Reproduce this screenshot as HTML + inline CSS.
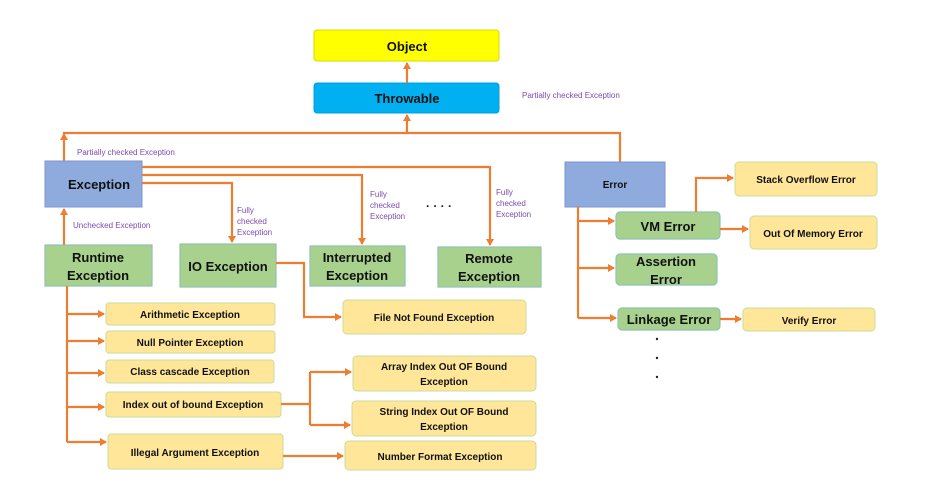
<!DOCTYPE html>
<html><head><style>
body{margin:0;background:#fff;}
svg{display:block;font-family:"Liberation Sans",sans-serif;font-weight:bold;}
.p{fill:#7b4bb0;font-size:8px;font-weight:normal}
.y{fill:#ffe699;stroke:#c9dc9a;stroke-width:1}
.g{fill:#a9d18e;stroke:#8fc1b0;stroke-width:1.2}
.b{fill:#8faadc;stroke:#7d95d0;stroke-width:1}
.l{stroke:#ed7d31;stroke-width:2.2;fill:none}
.t{fill:#111;text-anchor:middle}
</style></head><body>
<svg width="936" height="485" viewBox="0 0 936 485">
<defs><marker id="a" markerWidth="8" markerHeight="8" refX="6" refY="4" orient="auto" markerUnits="userSpaceOnUse"><path d="M0,0 L7,4 L0,8 Z" fill="#ed7d31"/></marker></defs>
<!-- top -->
<rect x="314" y="30" width="185" height="31" rx="3" fill="#ffff00" stroke="#d8d800"/>
<text class="t" x="407" y="51" font-size="13">Object</text>
<rect x="314" y="83" width="185" height="30" rx="3" fill="#00b0f0" stroke="#00a0dd"/>
<text class="t" x="407" y="103" font-size="13">Throwable</text>
<path class="l" d="M407 83 V63" marker-end="url(#a)"/>
<path class="l" d="M407 133 V115" marker-end="url(#a)"/>
<path class="l" d="M64 161 V133 H620 V162" />
<path class="l" d="M64 140 V134" marker-end="url(#a)"/>
<text class="p" x="522" y="98">Partially checked Exception</text>
<text class="p" x="77" y="155">Partially checked Exception</text>
<!-- Exception -->
<rect class="b" x="45" y="161" width="97" height="46"/>
<text class="t" x="99" y="189" font-size="13">Exception</text>
<path class="l" d="M142 167 H490 V245" marker-end="url(#a)"/>
<path class="l" d="M142 175 H362 V244" marker-end="url(#a)"/>
<path class="l" d="M142 183 H232 V242" marker-end="url(#a)"/>
<path class="l" d="M64 245 V209" marker-end="url(#a)"/>
<text class="p" x="73" y="228">Unchecked Exception</text>
<text class="p" x="237" y="213">Fully</text><text class="p" x="237" y="224">checked</text><text class="p" x="237" y="235">Exception</text>
<text class="p" x="370" y="197">Fully</text><text class="p" x="370" y="208">checked</text><text class="p" x="370" y="219">Exception</text>
<text class="p" x="496" y="195">Fully</text><text class="p" x="496" y="206">checked</text><text class="p" x="496" y="217">Exception</text>
<text x="426" y="210" font-size="12" fill="#222">·  ·  ·  ·</text>
<rect class="g" x="45" y="245" width="107" height="41"/>
<text class="t" x="98" y="262" font-size="13">Runtime</text><text class="t" x="98" y="280" font-size="13">Exception</text>
<rect class="g" x="180" y="244" width="96" height="43"/>
<text class="t" x="228" y="271" font-size="13">IO Exception</text>
<rect class="g" x="310" y="246" width="95" height="40"/>
<text class="t" x="357" y="262" font-size="13">Interrupted</text><text class="t" x="357" y="280" font-size="13">Exception</text>
<rect class="g" x="438" y="247" width="103" height="40"/>
<text class="t" x="489" y="263" font-size="13">Remote</text><text class="t" x="489" y="281" font-size="13">Exception</text>
<!-- runtime children -->
<path class="l" d="M67 286 V442"/>
<path class="l" d="M67 314 H104" marker-end="url(#a)"/>
<path class="l" d="M67 341 H104" marker-end="url(#a)"/>
<path class="l" d="M67 373 H104" marker-end="url(#a)"/>
<path class="l" d="M67 407 H104" marker-end="url(#a)"/>
<path class="l" d="M67 442 H106" marker-end="url(#a)"/>
<g font-size="10">
<rect class="y" x="106" y="303" width="169" height="22" rx="3"/><text class="t" x="190" y="318">Arithmetic Exception</text>
<rect class="y" x="106" y="331" width="169" height="22" rx="3"/><text class="t" x="190" y="346">Null Pointer Exception</text>
<rect class="y" x="106" y="360" width="168" height="23" rx="3"/><text class="t" x="190" y="375">Class cascade Exception</text>
<rect class="y" x="106" y="392" width="175" height="25" rx="3"/><text class="t" x="193" y="408">Index out of bound Exception</text>
<rect class="y" x="108" y="434" width="175" height="35" rx="3"/><text class="t" x="195" y="456">Illegal Argument Exception</text>
<rect class="y" x="343" y="300" width="183" height="34" rx="4"/><text class="t" x="434" y="321">File Not Found Exception</text>
<rect class="y" x="353" y="356" width="183" height="35" rx="4"/><text class="t" x="444" y="370">Array Index Out OF Bound</text><text class="t" x="444" y="385">Exception</text>
<rect class="y" x="352" y="401" width="184" height="35" rx="4"/><text class="t" x="444" y="415">String Index Out OF Bound</text><text class="t" x="444" y="430">Exception</text>
<rect class="y" x="345" y="441" width="191" height="29" rx="4"/><text class="t" x="440" y="460">Number Format Exception</text>
</g>
<path class="l" d="M276 263 H304 V317 H341" marker-end="url(#a)"/>
<path class="l" d="M281 404 H310"/>
<path class="l" d="M310 372 V425"/>
<path class="l" d="M310 372 H351" marker-end="url(#a)"/>
<path class="l" d="M310 425 H350" marker-end="url(#a)"/>
<path class="l" d="M283 456 H343" marker-end="url(#a)" stroke-width="3"/>
<!-- Error -->
<rect class="b" x="565" y="162" width="100" height="45"/>
<text class="t" x="615" y="188" font-size="10">Error</text>
<path class="l" d="M578 207 V318"/>
<path class="l" d="M578 221 H614" marker-end="url(#a)"/>
<path class="l" d="M578 268 H614" marker-end="url(#a)"/>
<path class="l" d="M578 318 H616" marker-end="url(#a)"/>
<rect class="g" x="616" y="212" width="104" height="27" rx="4"/><text class="t" x="668" y="231" font-size="13">VM Error</text>
<rect class="g" x="616" y="254" width="101" height="31" rx="4"/><text class="t" x="666" y="266" font-size="13">Assertion</text><text class="t" x="666" y="284" font-size="13">Error</text>
<rect class="g" x="618" y="308" width="102" height="22" rx="4"/><text class="t" x="669" y="324" font-size="13">Linkage Error</text>
<path class="l" d="M696 212 V178 H733" marker-end="url(#a)"/>
<path class="l" d="M720 229 H748" marker-end="url(#a)" stroke-width="3"/>
<path class="l" d="M720 319 H741" marker-end="url(#a)" stroke-width="3"/>
<g font-size="10">
<rect class="y" x="735" y="162" width="142" height="34" rx="4"/><text class="t" x="806" y="183">Stack Overflow Error</text>
<rect class="y" x="750" y="216" width="127" height="33" rx="4"/><text class="t" x="813" y="237">Out Of Memory Error</text>
<rect class="y" x="743" y="308" width="132" height="23" rx="4"/><text class="t" x="809" y="324">Verify Error</text>
</g>
<circle cx="657" cy="339" r="1.2" fill="#222"/><circle cx="657" cy="358" r="1.2" fill="#222"/><circle cx="657" cy="377" r="1.2" fill="#222"/>
</svg>
</body></html>
